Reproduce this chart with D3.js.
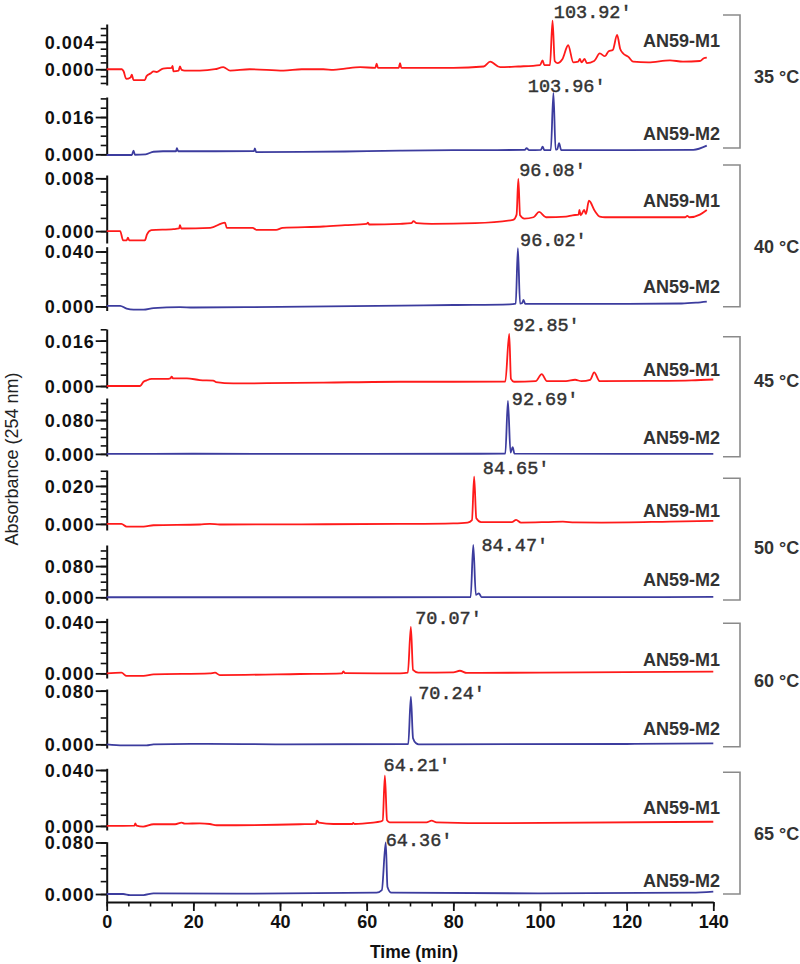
<!DOCTYPE html>
<html><head><meta charset="utf-8">
<script src="https://cdn.jsdelivr.net/npm/d3@7"></script>
<style>
html,body{margin:0;padding:0;background:#fff;}
svg{display:block;}
</style></head>
<body>
<svg id="chart" width="800" height="964"></svg>
<script>
// ---------------- data ----------------
const temperatures = ["35 °C", "40 °C", "45 °C", "50 °C", "60 °C", "65 °C"];
const samples = ["AN59-M1", "AN59-M2"];
const xTicks = [0, 20, 40, 60, 80, 100, 120, 140];
const peakLabels = ["103.92′", "103.96′", "96.08′", "96.02′", "92.85′", "92.69′",
                    "84.65′", "84.47′", "70.07′", "70.24′", "64.21′", "64.36′"];
// label anchor [time (min), absorbance] per trace
const peakLabelAnchors = [[103.2, 0.0075], [97.2, 0.0269], [95.2, 0.0084], [95.4, 0.044],
  [93.8, 0.0194], [93.5, 0.115], [86.8, 0.0263], [86.5, 0.1185], [71.2, 0.0382],
  [71.9, 0.0675], [63.9, 0.0393], [64.4, 0.0744]];
const yTickLabels = [["0.000", "0.004"], ["0.000", "0.016"], ["0.000", "0.008"], ["0.000", "0.040"],
  ["0.000", "0.016"], ["0.000", "0.080"], ["0.000", "0.020"], ["0.000", "0.080"],
  ["0.000", "0.040"], ["0.000", "0.080"], ["0.000", "0.040"], ["0.000", "0.080"]];
const yMinorSteps = [0.001, 0.004, 0.002, 0.008, 0.004, 0.02, 0.004, 0.02, 0.008, 0.02, 0.008, 0.02];
const yDomains = [[-0.0023, 0.0066], [-0.0003, 0.0246], [-0.0018, 0.0085], [-0.003, 0.0435],
  [-0.0007, 0.0201], [-0.005, 0.132], [-0.0032, 0.0284], [-0.007, 0.134],
  [-0.0036, 0.0426], [-0.0055, 0.0825], [-0.0029, 0.0412], [-0.0124, 0.0812]];

const m1_35 = [[0,0],[3.5,0],[3.9,-0.0003],[4.5,-0.0014],[5.5,-0.0012],[5.8,-0.0008],[6.2,-0.0016],[8.8,-0.0016],[9.2,-0.001],[10.2,-0.0006],[10.8,-0.0003],[11.5,-0.0004],[13,0.0001],[15,0.0002],[15.2,0.0005],[15.4,-0.0003],[16.6,-0.0002],[16.9,0.0004],[17.3,-0.0001],[18,-0.0002],[21.5,-0.0002],[25,0],[26.9,0.0003],[28.5,-0.0002],[33,0],[40.8,-0.0002],[45,0],[50,0],[52.3,-0.0001],[55,0.0001],[58.5,0.0003],[62,0.0002],[62.3,0.0008],[62.6,0.0002],[67.4,0.0002],[67.7,0.0009],[68,0.0002],[80,0.0002],[87,0.0004],[88.5,0.0011],[90.8,0.0003],[95,0.0004],[100,0.0006],[100.6,0.0013],[101,0.0006],[102.3,0.0006],[102.9,0.0071],[103.4,0.0012],[104,0.0009],[105.2,0.0015],[106.5,0.0035],[107.7,0.001],[108.8,0.0011],[109.2,0.0015],[109.6,0.001],[110.3,0.0015],[110.8,0.0009],[112.5,0.0012],[113.8,0.0023],[115,0.0019],[115.8,0.0026],[116.8,0.0028],[117.8,0.005],[118.5,0.003],[119.2,0.0023],[120.4,0.0018],[121.5,0.0011],[125,0.001],[130,0.0013],[133,0.0011],[136.9,0.0012],[137.8,0.0016],[138.5,0.0017]];
const m2_35 = [[0,-0.0003],[5.8,-0.0003],[6.2,0.0016],[6.5,-0.0002],[9,0],[10.8,0.0011],[13,0.0013],[16,0.0013],[16.2,0.0026],[16.5,0.0013],[25,0.0013],[34,0.0014],[34.2,0.0025],[34.5,0.0009],[45,0.001],[55,0.0012],[67.7,0.0016],[80,0.0018],[90,0.0018],[96.5,0.0019],[96.9,0.0026],[97.5,0.0018],[100.2,0.0019],[100.6,0.0033],[101,0.0018],[102.5,0.0018],[103.1,0.0264],[103.6,0.002],[104,0.0022],[104.4,0.0048],[104.9,0.0018],[120,0.0018],[135.4,0.0019],[138.5,0.0037]];
const m1_40 = [[0,0],[3.1,0],[3.8,-0.0014],[4.6,-0.0014],[4.9,-0.001],[5.2,-0.0014],[8.8,-0.0014],[9.3,-0.0005],[10.3,0.00015],[15.4,0.0003],[16.7,0.0004],[16.9,0.0009],[17.2,0.0004],[23.9,0.0005],[27.3,0.0013],[27.7,0.0005],[33.7,0.0005],[34.5,0.0002],[39.1,0.0002],[40.6,0.0005],[50,0.0007],[55,0.0009],[60,0.0011],[60.3,0.0013],[60.6,0.001],[67.7,0.0011],[70.3,0.0012],[70.8,0.0015],[71.5,0.0012],[75,0.0011],[85,0.0012],[93.8,0.0017],[94.6,0.0025],[95.0,0.0079],[95.4,0.0024],[96.4,0.0019],[98.5,0.0021],[99.8,0.0029],[101.4,0.0021],[106,0.0022],[107.5,0.0024],[108.9,0.0025],[109.1,0.0032],[109.4,0.0024],[110.2,0.0032],[110.6,0.0026],[111.3,0.0046],[112.7,0.003],[113.8,0.0022],[115,0.0021],[125,0.0021],[133.5,0.0021],[134,0.0023],[134.5,0.0021],[136.9,0.0025],[138.5,0.0032]];
const m2_40 = [[0,0.0004],[3.1,0.0004],[4.6,-0.0017],[6.2,-0.0024],[8.5,-0.0024],[10.8,-0.0012],[16.9,-0.0005],[20,-0.0008],[40,-0.0004],[68,0.0005],[80,0.001],[93,0.0015],[94.4,0.002],[94.9,0.0424],[95.4,0.002],[95.9,0.0025],[96.2,0.0047],[96.6,0.0018],[110,0.0018],[132.7,0.0021],[136,0.0027],[138.5,0.0035]];
const m1_45 = [[0,0],[7.7,0],[8.5,0.0015],[9.2,0.002],[10.4,0.0025],[13.8,0.0025],[14.7,0.0027],[15,0.0033],[15.3,0.0027],[18.5,0.0027],[21.5,0.0021],[24.6,0.0019],[25.2,0.0014],[29.2,0.0009],[37,0.001],[50,0.0012],[67.7,0.0015],[80,0.0015],[92,0.0016],[92.9,0.0184],[93.3,0.0025],[94,0.0015],[99,0.0017],[100.4,0.0042],[101.6,0.0017],[106,0.0017],[108.1,0.0022],[109.6,0.0017],[111.6,0.0022],[112.5,0.0048],[113.8,0.0017],[125,0.0018],[135,0.002],[140,0.0023]];
const m2_45 = [[0,0],[20,0.0003],[60,0],[92,0.0005],[92.6,0.125],[93.2,0.003],[93.7,0.016],[94.1,0.0005],[120,0],[140,0]];
const m1_50 = [[0,0],[3.4,0],[4.6,-0.0014],[8.5,-0.0014],[10.8,-0.0007],[21.5,-0.0003],[23.8,0],[26.1,-0.0003],[45,-0.0002],[67.7,0],[80,0.0003],[83.3,0.0007],[84.3,0.002],[84.8,0.0249],[85.3,0.003],[86.4,0.001],[93.5,0.001],[94.5,0.0021],[95.6,0.0007],[102,0.001],[105.3,0.0012],[108,0.0008],[114.2,0.0007],[130,0.0012],[140,0.0016]];
const m2_50 = [[0,0],[40,0],[84,0.0005],[84.6,0.134],[85.2,0.006],[85.9,0.01],[86.5,0.0005],[120,0.0003],[140,0.0008]];
const m1_60 = [[0,0],[3.4,0.0005],[4.6,-0.002],[8.5,-0.002],[10.8,-0.0008],[23.8,0],[25,0.0005],[26.1,-0.0013],[44.6,-0.0005],[54.3,0],[54.6,0.0016],[55,0.0002],[62.3,0],[67.7,0],[69.5,0.0005],[70.2,0.036],[70.7,0.0026],[71.9,0.0005],[80,0.0008],[81.5,0.002],[83.1,0.0003],[100,0.0006],[140,0.0013]];
const m2_60 = [[0,0],[3.8,-0.0015],[9.2,-0.0015],[10.8,0],[22.3,0.0007],[40,0],[69.6,0.0005],[70.2,0.071],[70.7,0.009],[71.4,0.0015],[72,0],[120,0.0005],[140,0.0015]];
const m1_65 = [[0,0],[6.4,0.0002],[6.6,0.0019],[6.9,0.0002],[8.4,-0.0005],[10.8,0.0012],[15.8,0.0012],[17.3,0.0024],[18,0.0016],[21.5,0.0019],[23.8,0.0014],[25.4,0.0005],[44.6,0.0012],[48.3,0.0015],[48.5,0.0038],[49,0.0024],[52.3,0.0014],[56.7,0.0014],[56.9,0.0021],[57.2,0.0014],[61.5,0.0024],[63,0.003],[63.7,0.004],[64.2,0.036],[64.7,0.004],[65.3,0.0026],[73.8,0.0026],[75,0.0038],[76.1,0.0026],[90.8,0.002],[140,0.003]];
const m2_65 = [[0,0],[3.8,0],[5.4,-0.0016],[8.5,-0.0016],[10.8,0.001],[30,0.0005],[62.3,0.002],[63.5,0.006],[64.4,0.08],[64.8,0.011],[65.7,0.002],[100,0.001],[135,0.002],[140,0.0036]];

const traces = [m1_35, m2_35, m1_40, m2_40, m1_45, m2_45, m1_50, m2_50, m1_60, m2_60, m1_65, m2_65];

// ---------------- layout ----------------
const svg = d3.select("#chart");
svg.append("rect").attr("width", 800).attr("height", 964).attr("fill", "#fff");
const FONT = "'Liberation Sans', Arial, Helvetica, sans-serif";
const x = d3.scaleLinear().domain([0, 140]).range([106.7, 713.3]);
const panelRanges = [[85, 24], [155, 97], [243, 175], [310.5, 246.7], [388, 329], [456, 398],
  [530, 470], [600, 545], [678, 618.3], [748, 689], [830, 768.3], [902, 841.7]];
const sampleBaselines = [46.7, 140, 206.7, 293, 375.7, 444, 517, 586, 665.7, 735, 814, 886.7];
const brackets = [[15, 148, 77], [165, 306.7, 247], [336.7, 456.7, 380.7], [478.3, 600, 547.3],
  [623.3, 746.7, 680.7], [772.3, 894, 833.3]];
const colors = ["#ff1a1a", "#3c3c9e"];

traces.forEach((data, i) => {
  const y = d3.scaleLinear().domain(yDomains[i]).range(panelRanges[i]);
  const g = svg.append("g");
  // minor ticks
  const step = yMinorSteps[i];
  const minor = d3.range(Math.ceil(yDomains[i][0] / step - 1e-6) * step, yDomains[i][1] + 1e-9, step);
  const minorAxis = d3.axisLeft(y).tickValues(minor).tickSize(6).tickSizeOuter(0).tickFormat("");
  const ga = g.append("g").attr("transform", "translate(106.7,0)").call(minorAxis);
  ga.select(".domain").attr("stroke", "#111").attr("stroke-width", 2);
  ga.selectAll(".tick line").attr("stroke", "#111").attr("stroke-width", 1.6);
  const majors = yTickLabels[i].map(Number);
  const majorAxis = d3.axisLeft(y).tickValues(majors).tickSize(11).tickSizeOuter(0)
    .tickFormat((d, k) => yTickLabels[i][k]);
  const gm = g.append("g").attr("transform", "translate(106.7,0)").call(majorAxis);
  gm.select(".domain").remove();
  gm.selectAll(".tick line").attr("stroke", "#111").attr("stroke-width", 1.8);
  gm.selectAll(".tick text").attr("x", -12).attr("font-family", FONT).attr("font-weight", "bold")
    .attr("font-size", 18).attr("letter-spacing", 1).attr("fill", "#111").attr("dy", "0.36em");

  const line = d3.line().x(d => x(d[0])).y(d => y(d[1])).curve(d3.curveMonotoneX);
  g.append("path").datum(data).attr("d", line).attr("fill", "none")
    .attr("stroke", colors[i % 2]).attr("stroke-width", 1.8).attr("stroke-linejoin", "round");

  const a = peakLabelAnchors[i];
  g.append("text").attr("x", x(a[0])).attr("y", y(a[1])).text(peakLabels[i])
    .attr("font-family", "'Liberation Mono', 'DejaVu Sans Mono', monospace")
    .attr("font-size", 18.5).attr("fill", "#333").attr("stroke", "#333").attr("stroke-width", 0.45);

  g.append("text").attr("x", 720).attr("y", sampleBaselines[i]).attr("text-anchor", "end")
    .text(samples[i % 2]).attr("font-family", FONT).attr("font-weight", "bold")
    .attr("font-size", 18).attr("fill", "#333");
});

// temperature brackets
brackets.forEach((b, i) => {
  svg.append("path").attr("d", `M723,${b[0]}H740V${b[1]}H723`).attr("fill", "none")
    .attr("stroke", "#8a8a8a").attr("stroke-width", 1.6);
  svg.append("text").attr("x", 754).attr("y", b[2]).attr("dy", "0.36em").text(temperatures[i])
    .attr("font-family", FONT).attr("font-weight", "bold").attr("font-size", 18).attr("fill", "#333");
});

// x axis
const xMinor = d3.axisBottom(x).tickValues(d3.range(0, 141, 5)).tickSize(4.5).tickSizeOuter(0).tickFormat("");
const gx = svg.append("g").attr("transform", "translate(0,902)").call(xMinor);
gx.select(".domain").attr("stroke", "#111").attr("stroke-width", 2);
gx.selectAll(".tick line").attr("stroke", "#111").attr("stroke-width", 1.6);
const xMajor = d3.axisBottom(x).tickValues(xTicks).tickSize(9).tickSizeOuter(0);
const gx2 = svg.append("g").attr("transform", "translate(0,902)").call(xMajor);
gx2.select(".domain").remove();
gx2.selectAll(".tick line").attr("stroke", "#111").attr("stroke-width", 1.8);
gx2.selectAll(".tick text").attr("y", 13).attr("font-family", FONT).attr("font-weight", "bold")
  .attr("font-size", 18).attr("fill", "#111");

svg.append("text").attr("x", 414).attr("y", 958).attr("text-anchor", "middle").text("Time (min)")
  .attr("font-family", FONT).attr("font-weight", "bold").attr("font-size", 17.5).attr("fill", "#111");
svg.append("text").attr("transform", "translate(18,459) rotate(-90)").attr("text-anchor", "middle")
  .text("Absorbance (254 nm)").attr("font-family", FONT).attr("font-size", 18).attr("fill", "#222");
</script>
</body></html>
